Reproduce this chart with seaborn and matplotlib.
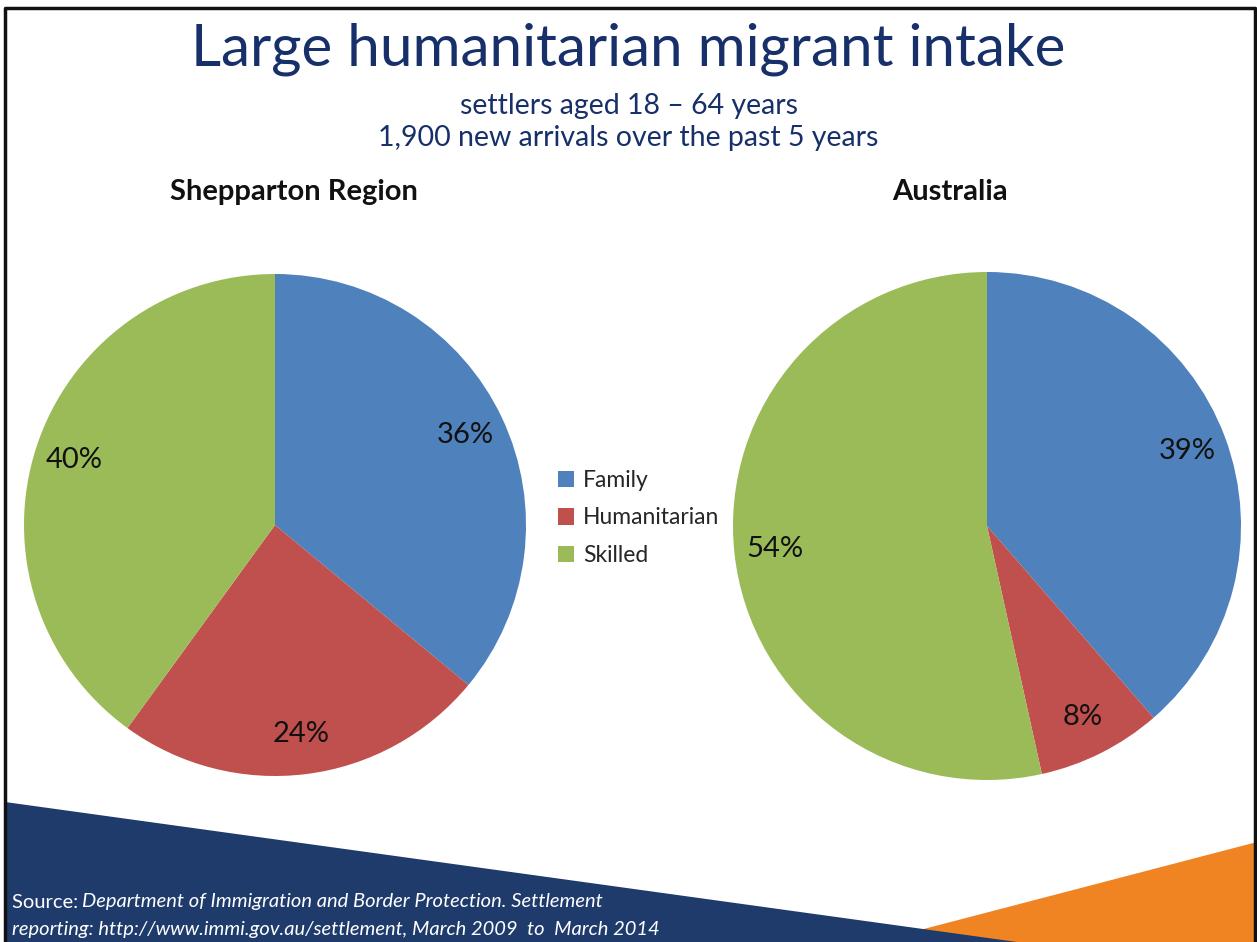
import matplotlib
matplotlib.use("Agg")
import matplotlib.pyplot as plt
from matplotlib.patches import Polygon
import seaborn as sns

# ---- data ----
categories = ["Family", "Humanitarian", "Skilled"]
shepparton_values = [36, 24, 40]
australia_values = [39, 8, 54]
panel_titles = ["Shepparton Region", "Australia"]
title = "Large humanitarian migrant intake"
subtitle1 = "settlers aged 18 \u2013 64 years"
subtitle2 = "1,900 new arrivals over the past 5 years"

sns.set_theme(style="white")
plt.rcParams["font.family"] = ["Lato", "DejaVu Sans"]

colors = sns.color_palette(["#4F81BD", "#C0504D", "#9BBB59"])
navy = "#17306A"

W, H = 1257, 942
fig = plt.figure(figsize=(W / 100, H / 100), dpi=100)
fig.patch.set_facecolor("white")

# background decoration axes in pixel coordinates
bg = fig.add_axes([0, 0, 1, 1])
bg.set_xlim(0, W)
bg.set_ylim(H, 0)
bg.axis("off")
bg.add_patch(Polygon([(1257, 842), (1257, 942), (874, 942)], closed=True,
                     facecolor="#F08423", edgecolor="none", zorder=1))
bg.add_patch(Polygon([(5, 802), (1017, 942), (5, 942)], closed=True,
                     facecolor="#1F3B6B", edgecolor="none", zorder=2))
bg.plot([5, 5, 1255, 1255], [942, 8, 8, 942], color="#111111", lw=2.5, zorder=3)

fig.text(0.5, 1 - 49 / H, title, ha="center", va="center", fontsize=42, color=navy)
fig.text(0.5, 1 - 106 / H, subtitle1, ha="center", va="center", fontsize=20.5, color=navy)
fig.text(0.5, 1 - 138 / H, subtitle2, ha="center", va="center", fontsize=20.5, color=navy)


def draw_pie(cx, cy, r, values, name, tx):
    ax = fig.add_axes([(cx - r) / W, (H - cy - r) / H, 2 * r / W, 2 * r / H])
    wedges, texts, autotexts = ax.pie(
        values, colors=colors, startangle=90, counterclock=False,
        autopct=lambda p: f"{p:.0f}%", pctdistance=0.84, radius=1,
        wedgeprops=dict(linewidth=0, edgecolor="none"),
        textprops=dict(fontsize=21, color="#111111"))
    # use the reported percentages for labels
    for t, v in zip(autotexts, values):
        t.set_text(f"{v}%")
    ax.set_xlim(-1, 1)
    ax.set_ylim(-1, 1)
    ax.set_aspect("equal")
    ax.axis("off")
    fig.text(tx / W, 1 - 192 / H, name, ha="center", va="center",
             fontsize=21, fontweight="bold", color="#111111")
    return wedges


w1 = draw_pie(275, 525, 251, shepparton_values, panel_titles[0], 294)
w2 = draw_pie(987, 526, 254, australia_values, panel_titles[1], 950)

leg = fig.legend(w1, categories, loc="center left",
                 bbox_to_anchor=(537 / W, 1 - 518 / H), frameon=False,
                 fontsize=16.5, handlelength=0.7, handleheight=0.7,
                 handletextpad=0.4, labelspacing=0.7)

# source text
fig.text(12 / W, 1 - 902 / H, "Source: ", ha="left", va="center", fontsize=14.5, color="white")
fig.text(82 / W, 1 - 902 / H, "Department of Immigration and Border Protection. Settlement",
         ha="left", va="center", fontsize=14.5, color="white", style="italic")
fig.text(12 / W, 1 - 930 / H,
         "reporting: http://www.immi.gov.au/settlement, March 2009  to  March 2014",
         ha="left", va="center", fontsize=14.5, color="white", style="italic")

fig.savefig("out.png", dpi=100, facecolor="white")
